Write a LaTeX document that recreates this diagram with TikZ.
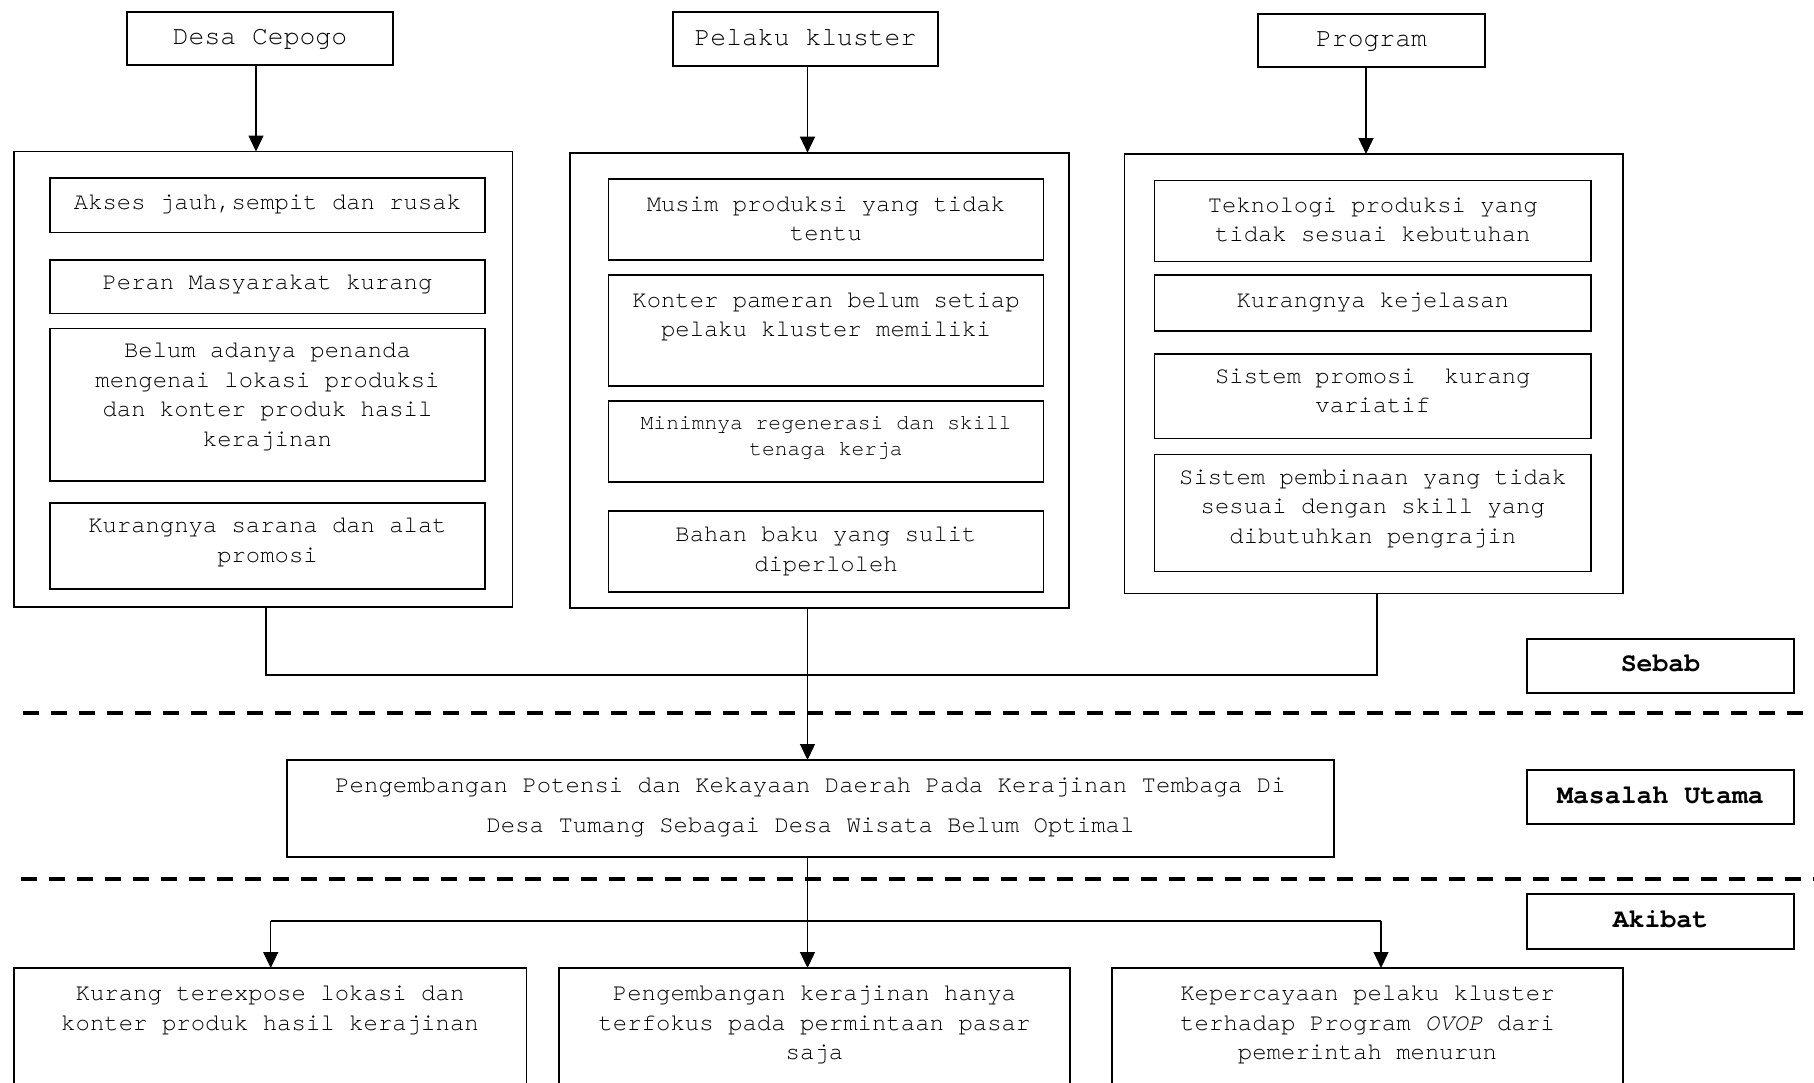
\documentclass[tikz,border=0pt]{standalone}
\usepackage{fontspec}
\setmainfont{TeX Gyre Cursor}
\usetikzlibrary{arrows.meta,calc}
\newcommand\fntHead{\fontsize{26.4}{30}\selectfont}
\newcommand\fntIn{\fontsize{23.9}{29.5}\selectfont}
\newcommand\fntSm{\fontsize{21.3}{25.5}\selectfont}
\newcommand\fntMain{\fontsize{24}{40.4}\selectfont}
\newcommand\fntBot{\fontsize{24}{29.5}\selectfont}
\newcommand\fntLab{\fontsize{26.5}{30}\selectfont\bfseries}
\tikzset{
  box/.style={draw, line width=1.6pt, inner sep=0pt, outer sep=0pt, anchor=north west},
  tl/.style={anchor=north, inner sep=0pt, outer sep=0pt, align=center},
  arr/.style={-{Triangle[length=16pt,width=15pt]}, line width=1.3pt},
  conn/.style={line width=1.3pt},
  sep/.style={line width=4pt, dash pattern=on 16pt off 12pt}
}
\begin{document}
\begin{tikzpicture}[x=1pt,y=-1pt]
\useasboundingbox (0,0) rectangle (1814,1082);
\clip (0,0) rectangle (1814,1082);
% header boxes
\node[box, minimum width=266pt, minimum height=53pt, font=\fntHead] (desa) at (127,12) {\strut Desa Cepogo};
\node[box, minimum width=265pt, minimum height=54pt, font=\fntHead] (pelaku) at (673,12) {\strut Pelaku kluster};
\node[box, minimum width=227pt, minimum height=53pt, font=\fntHead] (program) at (1258,14) {\strut Program};
% outer boxes
\node[box, minimum width=498.5pt, minimum height=455.5pt] (O1) at (14,151.5) {};
\node[box, minimum width=499pt, minimum height=455pt] (O2) at (570,152.7) {};
\node[box, minimum width=498.5pt, minimum height=439.5pt] (O3) at (1124.5,154) {};
% column 1 inner
\node[box, minimum width=435pt, minimum height=54.5pt] (a1) at (50,178) {};
\node[box, minimum width=435pt, minimum height=53.5pt] (a2) at (50,260) {};
\node[box, minimum width=435pt, minimum height=152.5pt] (a3) at (50,328.5) {};
\node[box, minimum width=435pt, minimum height=86pt] (a4) at (50,503) {};
\node[tl, font=\fntIn] (ta1) at (267.5,189.2) {\strut Akses jauh,sempit dan rusak};
\node[tl, font=\fntIn] (ta2) at (267.5,269.1) {\strut Peran Masyarakat kurang};
\node[tl, font=\fntIn] (ta3) at (267.5,337.2) {\strut Belum adanya penanda\\mengenai lokasi produksi\\dan konter produk hasil\\kerajinan};
\node[tl, font=\fntIn] (ta4) at (267.5,512) {\strut Kurangnya sarana dan alat\\promosi};
% column 2 inner
\node[box, minimum width=435pt, minimum height=81pt] (b1) at (608.5,179) {};
\node[box, minimum width=435pt, minimum height=111pt] (b2) at (608.5,275) {};
\node[box, minimum width=435pt, minimum height=81pt] (b3) at (608.5,401) {};
\node[box, minimum width=435pt, minimum height=81pt] (b4) at (608.5,511) {};
\node[tl, font=\fntIn] (tb1) at (826,190.4) {\strut Musim produksi yang tidak\\tentu};
\node[tl, font=\fntIn] (tb2) at (826,286.4) {\strut Konter pameran belum setiap\\pelaku kluster memiliki};
\node[tl, font=\fntSm] (tb3) at (826,412) {\strut Minimnya regenerasi dan skill\\tenaga kerja};
\node[tl, font=\fntIn] (tb4) at (826,521.2) {\strut Bahan baku yang sulit\\diperloleh};
% column 3 inner
\node[box, minimum width=436.5pt, minimum height=81pt] (c1) at (1154.5,180.5) {};
\node[box, minimum width=436.5pt, minimum height=56pt] (c2) at (1154.5,275) {};
\node[box, minimum width=436.5pt, minimum height=84.5pt] (c3) at (1154.5,354) {};
\node[box, minimum width=436.5pt, minimum height=117pt] (c4) at (1154.5,454.5) {};
\node[tl, font=\fntIn] (tc1) at (1372.8,191.6) {\strut Teknologi produksi yang\\tidak sesuai kebutuhan};
\node[tl, font=\fntIn] (tc2) at (1372.8,286.4) {\strut Kurangnya kejelasan};
\node[tl, font=\fntIn] (tc3) at (1372.8,362.8) {\strut Sistem promosi~ kurang\\variatif};
\node[tl, font=\fntIn] (tc4) at (1372.8,463.4) {\strut Sistem pembinaan yang tidak\\sesuai dengan skill yang\\dibutuhkan pengrajin};
% header arrows
\coordinate (hx1) at (256,0);
\coordinate (hx2) at (807.5,0);
\coordinate (hx3) at (1366,0);
\draw[arr] (hx1 |- desa.south) -- (hx1 |- O1.north);
\draw[arr] (hx2 |- pelaku.south) -- (hx2 |- O2.north);
\draw[arr] (hx3 |- program.south) -- (hx3 |- O3.north);
% main problem
\node[box, minimum width=1047pt, minimum height=97pt] (masalah) at (287,760) {};
\node[tl, font=\fntMain] (tm) at (810.5,764.3) {\strut Pengembangan Potensi dan Kekayaan Daerah Pada Kerajinan Tembaga Di\\Desa Tumang Sebagai Desa Wisata Belum Optimal};
% separators
\draw[sep] (23,712.7) -- (1810,712.7);
\draw[sep] (21,878.5) -- (1814,878.5);
% labels
\node[box, minimum width=267pt, minimum height=53.7pt, font=\fntLab] (sebab) at (1527,639) {\strut Sebab};
\node[box, minimum width=267pt, minimum height=54pt, font=\fntLab] (lmas) at (1527,770) {\strut Masalah Utama};
\node[box, minimum width=267pt, minimum height=55pt, font=\fntLab] (akibat) at (1527,894) {\strut Akibat};
% cause connectors
\coordinate (j) at (807.5,675);
\coordinate (j1) at (266,675);
\coordinate (j3) at (1377,675);
\draw[conn] (j1 |- O1.south) -- (j1) -- (j3) -- (j3 |- O3.south);
\draw[arr] (j |- O2.south) -- (j |- masalah.north);
% effect boxes
\node[box, minimum width=512.4pt, minimum height=160pt] (eA) at (14,968) {};
\node[box, minimum width=511pt, minimum height=160pt] (eB) at (559,968) {};
\node[box, minimum width=511pt, minimum height=160pt] (eC) at (1112,968) {};
\node[tl, font=\fntBot] (teA) at (270,980) {\strut Kurang terexpose lokasi dan\\konter produk hasil kerajinan};
\node[tl, font=\fntBot] (teB) at (814.5,980) {\strut Pengembangan kerajinan hanya\\terfokus pada permintaan pasar\\saja};
\node[tl, font=\fntBot] (teC) at (1367.5,980) {\strut Kepercayaan pelaku kluster\\terhadap Program \textit{OVOP} dari\\pemerintah menurun};
% effect connectors
\coordinate (ka) at (270.7,921);
\coordinate (kc) at (1381,921);
\draw[arr] (j |- masalah.south) -- (j |- eB.north);
\draw[conn] (ka) -- (kc);
\draw[arr] (ka) -- (ka |- eA.north);
\draw[arr] (kc) -- (kc |- eC.north);
\end{tikzpicture}
\end{document}
